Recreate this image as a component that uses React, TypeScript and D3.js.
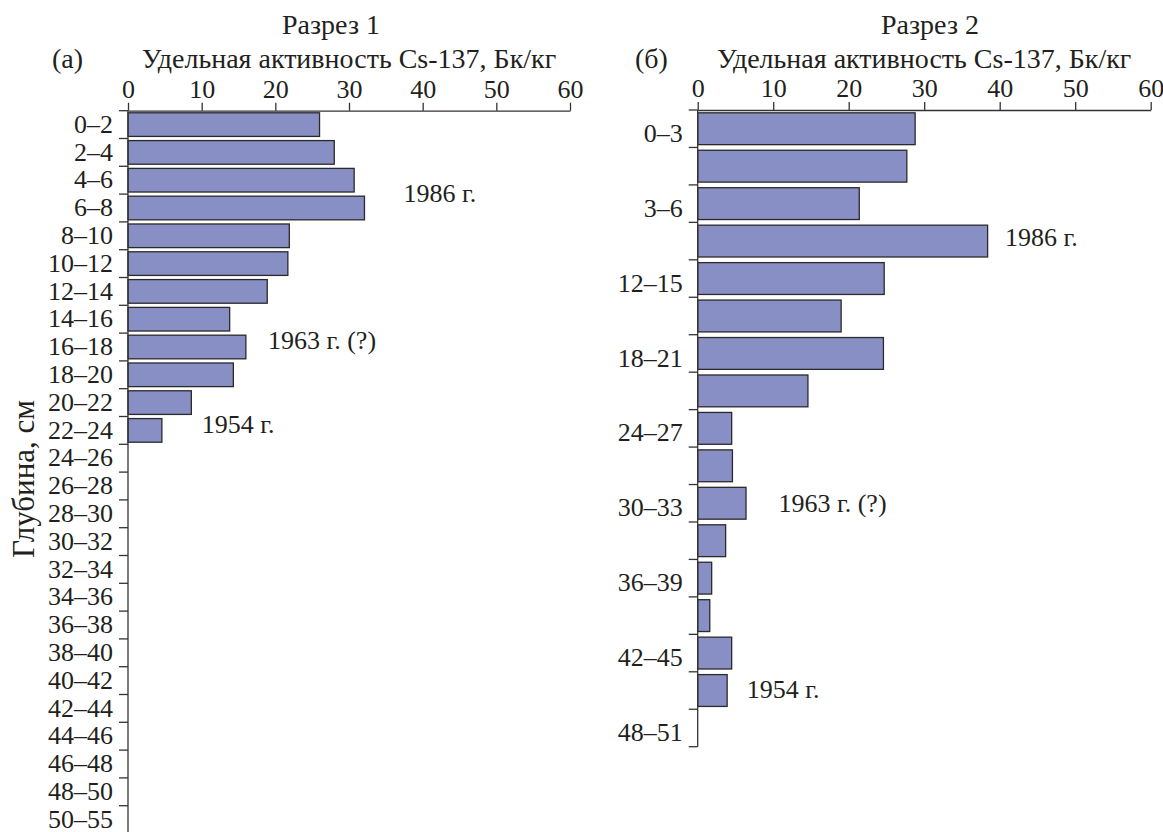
import React, { useEffect, useRef } from 'react';
import * as d3 from 'd3';

// Разрез 1: depth intervals (cm) and Cs-137 activity (Bq/kg)
const depth1 = [
  '0–2', '2–4', '4–6', '6–8', '8–10', '10–12', '12–14', '14–16', '16–18', '18–20',
  '20–22', '22–24', '24–26', '26–28', '28–30', '30–32', '32–34', '34–36', '36–38',
  '38–40', '40–42', '42–44', '44–46', '46–48', '48–50', '50–55',
];
const activity1 = [
  26, 28, 30.7, 32.1, 21.9, 21.7, 18.9, 13.8, 16, 14.3, 8.6, 4.6,
  null, null, null, null, null, null, null, null, null, null, null, null, null, null,
];

// Разрез 2: every other interval is labelled in the original
const depth2 = [
  '0–3', '', '3–6', '', '12–15', '', '18–21', '', '24–27', '', '30–33', '', '36–39', '',
  '42–45', '', '48–51',
];
const activity2 = [
  28.8, 27.7, 21.4, 38.4, 24.7, 19, 24.6, 14.6, 4.5, 4.6, 6.4, 3.7, 1.85, 1.6, 4.5, 3.9, null,
];

const xTicks = [0, 10, 20, 30, 40, 50, 60];

// event labels: [text, activity value, band position]
const notes1: [string, number, number][] = [
  ['1986 г.', 37.4, 2.95],
  ['1963 г. (?)', 19, 8.25],
  ['1954 г.', 10, 11.25],
];
const notes2: [string, number, number][] = [
  ['1986 г.', 40.7, 3.4],
  ['1963 г. (?)', 10.7, 10.5],
  ['1954 г.', 6.5, 15.45],
];

const W = 1163;
const H = 832;
const FONT = '"Liberation Serif", "Times New Roman", serif';
const INK = '#231f20';
const BAR = '#888fc5';

const App = () => {
  const ref = useRef<SVGSVGElement>(null);

  useEffect(() => {
    const svg = d3.select(ref.current);
    svg.selectAll('*').remove();
    svg.style('font-family', FONT).style('fill', INK);

    const panel = (opts: any) => {
      const { labels, values, x0, x1, y0, y1, title, letter, notes, labelShift, titleX, letterX } = opts;
      const x = d3.scaleLinear().domain([0, 60]).range([x0, x1]);
      const y = d3.scaleBand<number>()
        .domain(d3.range(labels.length))
        .range([y0, y1])
        .paddingInner(0.15)
        .paddingOuter(0.075);
      const step = y.step();
      const g = svg.append('g');

      // bars
      g.selectAll('rect.bar')
        .data(values.map((v: number | null, i: number) => ({ v, i })).filter((d: any) => d.v != null))
        .enter()
        .append('rect')
        .attr('class', 'bar')
        .attr('x', x(0))
        .attr('y', (d: any) => y(d.i)!)
        .attr('width', (d: any) => x(d.v) - x(0))
        .attr('height', y.bandwidth())
        .attr('fill', BAR)
        .attr('stroke', '#2a2a2a')
        .attr('stroke-width', 1.3);

      // top axis
      const xAxis = d3.axisTop(x).tickValues(xTicks).tickSize(8).tickSizeOuter(0).tickPadding(5);
      const ax = g.append('g').attr('transform', `translate(0,${y0})`).call(xAxis);
      ax.select('.domain').attr('stroke', '#333').attr('stroke-width', 1.3);
      ax.selectAll('.tick line').attr('stroke', '#333').attr('stroke-width', 1.3);
      ax.selectAll('.tick text')
        .attr('fill', INK)
        .style('font-size', '26px')
        .style('font-family', FONT);

      // left axis with ticks on interval boundaries
      g.append('line')
        .attr('x1', x0).attr('x2', x0)
        .attr('y1', y0).attr('y2', y1)
        .attr('stroke', '#333').attr('stroke-width', 1.3);
      g.selectAll('line.ytick')
        .data(d3.range(labels.length + 1))
        .enter()
        .append('line')
        .attr('class', 'ytick')
        .attr('x1', x0 - 9).attr('x2', x0)
        .attr('y1', (i: number) => y0 + i * step)
        .attr('y2', (i: number) => y0 + i * step)
        .attr('stroke', '#333').attr('stroke-width', 1.3);
      g.selectAll('text.ylab')
        .data(labels)
        .enter()
        .append('text')
        .attr('class', 'ylab')
        .attr('x', x0 - 15)
        .attr('y', (_: any, i: number) => y(i)! + y.bandwidth() / 2 + labelShift)
        .attr('dy', '0.35em')
        .attr('text-anchor', 'end')
        .style('font-size', '26px')
        .text((d: string) => d);

      // headings
      g.append('text')
        .attr('x', titleX).attr('y', 34)
        .attr('text-anchor', 'middle')
        .style('font-size', '28px')
        .text(title);
      g.append('text')
        .attr('x', letterX).attr('y', 68)
        .style('font-size', '28px')
        .text(letter);
      g.append('text')
        .attr('x', (x0 + x1) / 2).attr('y', 68)
        .attr('text-anchor', 'middle')
        .style('font-size', '28px')
        .text('Удельная активность Cs-137, Бк/кг');

      // event notes
      g.selectAll('text.note')
        .data(notes)
        .enter()
        .append('text')
        .attr('class', 'note')
        .attr('x', (d: any) => x(d[1]))
        .attr('y', (d: any) => y0 + d[2] * step)
        .attr('dy', '0.35em')
        .style('font-size', '26px')
        .text((d: any) => d[0]);
    };

    panel({
      labels: depth1, values: activity1,
      x0: 128, x1: 570, y0: 110.7, y1: 110.7 + 26 * 27.8,
      title: 'Разрез 1', letter: '(а)', notes: notes1, labelShift: -1,
      titleX: 331, letterX: 52,
    });
    panel({
      labels: depth2, values: activity2,
      x0: 697.7, x1: 1150.7, y0: 110, y1: 746.7,
      title: 'Разрез 2', letter: '(б)', notes: notes2, labelShift: 4,
      titleX: 930, letterX: 635,
    });

    svg.append('text')
      .attr('transform', 'translate(34,479) rotate(-90)')
      .attr('text-anchor', 'middle')
      .style('font-size', '31px')
      .text('Глубина, см');
  }, []);

  return (
    <div style={{ position: 'absolute', left: 0, top: 0, width: W, height: H, overflow: 'hidden', background: '#fff' }}>
      <svg ref={ref} width={W} height={H}></svg>
    </div>
  );
};

export default App;
